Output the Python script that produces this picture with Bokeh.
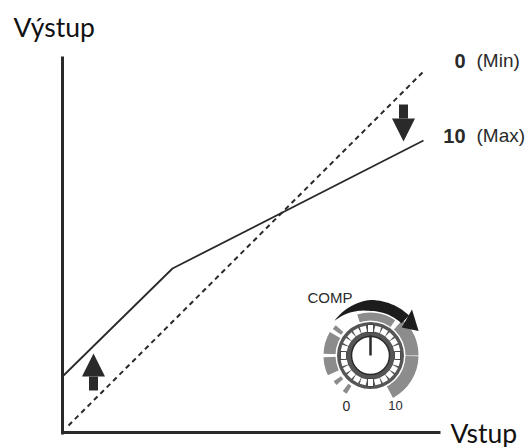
import numpy as np
from bokeh.plotting import figure
from bokeh.models import Range1d, Label, Arrow, NormalHead, FixedTicker
from bokeh.embed import file_html
from bokeh.resources import INLINE

INK = "#2a2a2a"
GRAY = "#8c8c8c"

# transfer curves (input, output)
min_input = [6, 360]
min_output = [7, 360]
max_input = [0, 110, 361]
max_output = [56, 164, 292]

# knob description, polar
knob_center = (308, 77)
gray_start = [182, 55, -62, 150, 139, 215, 232, 0]
gray_end = [205, 108, -1, 178, 145, 221, 238, 48]
gray_inner = [33, 33, 33, 33, 36, 36, 36, 33]
gray_outer = [47, 43, 48, 47, 46, 45, 45, 48]

fig_w, fig_h = 531, 447
origin_x, origin_y = 62, 15
p = figure(width=fig_w, height=fig_h, output_backend="svg", toolbar_location=None,
           x_range=Range1d(-origin_x, fig_w - origin_x), y_range=Range1d(-origin_y, fig_h - origin_y),
           min_border_left=0, min_border_right=0, min_border_top=0, min_border_bottom=0,
           outline_line_color=None, background_fill_color="white", border_fill_color="white")
p.grid.visible = False

for ax, bounds in ((p.xaxis[0], (-1.5, 378)), (p.yaxis[0], (-1.5, 376))):
    ax.fixed_location = 0
    ax.ticker = FixedTicker(ticks=[])
    ax.bounds = bounds
    ax.axis_line_color = INK
    ax.axis_line_width = 3
    ax.major_tick_line_color = None
    ax.minor_tick_line_color = None
    ax.major_label_text_color = None
    ax.major_label_text_font_size = "0px"

p.line(min_input, min_output, line_color=INK, line_width=2, line_dash="5 4")
p.line(max_input, max_output, line_color=INK, line_width=1.8)

# direction arrows
for xs, ys, xe, ye in ((341, 328, 341, 291), (31, 42, 31, 79)):
    p.add_layout(Arrow(x_start=xs, y_start=ys, x_end=xe, y_end=ye, line_color=INK, line_width=9,
                       end=NormalHead(size=23, fill_color=INK, line_color=INK, line_width=0)))

# knob
cx, cy = knob_center
p.annular_wedge([cx] * len(gray_start), [cy] * len(gray_start), gray_inner, gray_outer,
                np.radians(gray_start), np.radians(gray_end),
                fill_color=GRAY, line_color=None)
p.circle([cx], [cy], radius=35, fill_color="white", line_color=None)
p.circle([cx], [cy], radius=33.5, fill_color="#555555", line_color=None)
ring = np.radians(np.arange(0, 360, 15))
p.rect(cx + 27 * np.cos(ring), cy + 27 * np.sin(ring), 6, 6, angle=ring,
       fill_color="white", line_color=None)
p.rect([cx, cx, cx + 27, cx - 27], [cy + 27, cy - 27, cy, cy], 6, 8,
       fill_color="white", line_color=INK, line_width=0.8)
p.circle([cx], [cy], radius=19, fill_color="white", line_color=INK, line_width=1.5)
p.line([cx, cx], [cy, cy + 20], line_color=INK, line_width=2.5)

# black sweep arrow
sweep = np.radians(np.linspace(136, 46, 30))
taper = np.clip(np.linspace(0, 2, 30), 0, 1)
r_out = 50 + 5.5 * taper
r_in = 50 - 5.5 * taper
p.patch(np.r_[cx + r_out * np.cos(sweep), cx + r_in[::-1] * np.cos(sweep[::-1])],
        np.r_[cy + r_out * np.sin(sweep), cy + r_in[::-1] * np.sin(sweep[::-1])],
        fill_color="#1c1c1c", line_color=None)
head_r = [62, 54, 42]
head_a = np.radians([48, 27, 42])
p.patch(cx + np.array(head_r) * np.cos(head_a), cy + np.array(head_r) * np.sin(head_a),
        fill_color="#1c1c1c", line_color=None)


def label(x, y, text, font="Liberation Sans", size=14, style="normal", align="left", color=INK):
    p.add_layout(Label(x=x, y=y, text=text, text_font=font, text_font_size=f"{size}px",
                       text_font_style=style, text_align=align, text_baseline="middle",
                       text_color=color))


label(-49, 406, "Výstup", "Lato", 26.5, color="#111111")
label(388, 0, "Vstup", "Lato", 26.5, color="#111111")
label(245, 135, "COMP", size=15)
label(284, 27, "0", size=14, align="center")
label(333, 27, "10", size=13, align="center")
label(403, 372, "0", size=20, style="bold", align="right")
label(414, 372, "(Min)", size=19)
label(403, 297, "10", size=20, style="bold", align="right")
label(414, 297, "(Max)", size=19)

open("out.html", "w").write(file_html(p, INLINE))
